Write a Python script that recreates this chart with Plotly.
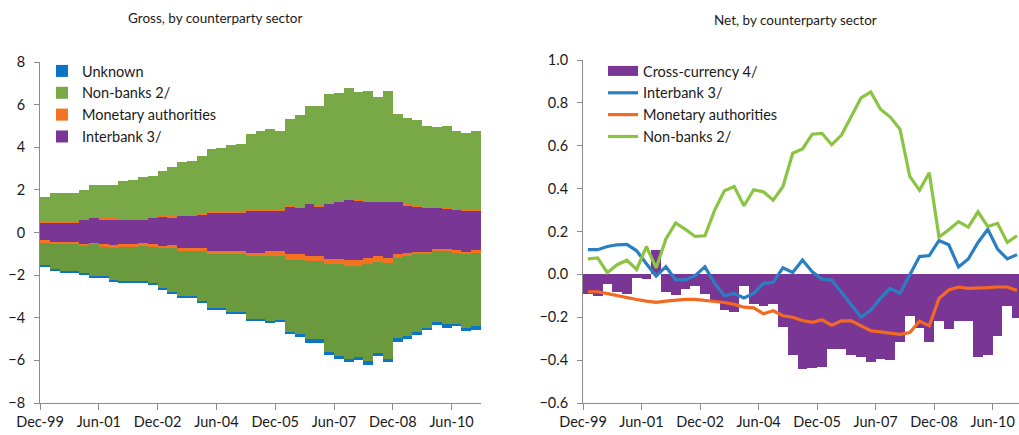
import plotly.graph_objects as go

W, H = 1019, 435

# ---------------- data ----------------
quarters = list(range(45))  # Dec-99 ... Dec-10, quarterly
tick_pos = [-0.5, 5.5, 11.5, 17.5, 23.5, 29.5, 35.5, 41.5]
tick_text = ["Dec-99", "Jun-01", "Dec-02", "Jun-04", "Dec-05", "Jun-07", "Dec-08", "Jun-10"]

# Gross (left panel) - positive side
interbank_pos = [0.45, 0.45, 0.45, 0.45, 0.57, 0.67, 0.60, 0.60, 0.57, 0.57, 0.57, 0.67, 0.73, 0.70, 0.76,
                 0.76, 0.82, 0.93, 0.93, 0.93, 0.93, 1.00, 1.00, 1.00, 1.00, 1.22, 1.16, 1.32, 1.19, 1.32,
                 1.41, 1.53, 1.50, 1.44, 1.44, 1.44, 1.44, 1.26, 1.19, 1.15, 1.15, 1.10, 1.04, 0.99, 0.99]
monetary_pos = [0.06, 0.06, 0.06, 0.06, 0.06, 0.07, 0.06, 0.06, 0.06, 0.06, 0.06, 0.06, 0.06, 0.06, 0.06,
                0.06, 0.06, 0.06, 0.06, 0.06, 0.06, 0.06, 0.06, 0.06, 0.06, 0.06, 0.06, 0.07, 0.06, 0.06,
                0.06, 0.06, 0.06, 0.06, 0.06, 0.06, 0.06, 0.06, 0.06, 0.06, 0.06, 0.06, 0.06, 0.06, 0.06]
nonbanks_pos = [1.15, 1.33, 1.33, 1.33, 1.37, 1.49, 1.56, 1.56, 1.80, 1.85, 1.96, 1.94, 2.09, 2.33, 2.50,
                2.54, 2.72, 2.93, 2.99, 3.10, 3.15, 3.58, 3.70, 3.81, 3.70, 4.05, 4.27, 4.54, 4.67, 5.12,
                5.07, 5.19, 5.01, 5.15, 4.84, 5.15, 4.07, 4.06, 4.01, 3.81, 3.75, 3.86, 3.66, 3.63, 3.71]

# Gross (left panel) - negative side
interbank_neg = [-0.36, -0.44, -0.44, -0.44, -0.52, -0.47, -0.53, -0.59, -0.56, -0.53, -0.50, -0.56, -0.62,
                 -0.59, -0.75, -0.75, -0.75, -0.88, -0.88, -0.88, -0.88, -0.94, -0.94, -0.88, -0.88, -1.03,
                 -1.03, -1.12, -1.12, -1.22, -1.22, -1.31, -1.31, -1.19, -1.12, -1.19, -1.03, -0.98, -0.91,
                 -0.91, -0.78, -0.78, -0.84, -0.91, -0.84]
monetary_neg = [-0.11, -0.09, -0.09, -0.09, -0.11, -0.09, -0.13, -0.13, -0.13, -0.13, -0.12, -0.13, -0.13,
                -0.13, -0.13, -0.13, -0.13, -0.15, -0.15, -0.15, -0.15, -0.15, -0.15, -0.21, -0.21, -0.25,
                -0.25, -0.22, -0.22, -0.25, -0.25, -0.28, -0.28, -0.28, -0.26, -0.22, -0.16, -0.14, -0.12,
                -0.12, -0.10, -0.10, -0.13, -0.12, -0.13]
nonbanks_neg = [-1.06, -1.20, -1.28, -1.28, -1.29, -1.49, -1.39, -1.51, -1.59, -1.62, -1.66, -1.70, -1.84,
                -2.06, -2.09, -2.09, -2.34, -2.50, -2.50, -2.69, -2.69, -2.97, -2.97, -3.07, -3.00, -3.38,
                -3.49, -3.66, -3.66, -4.16, -4.31, -4.35, -4.25, -4.55, -4.26, -4.53, -3.78, -3.72, -3.63,
                -3.44, -3.34, -3.43, -3.30, -3.44, -3.44]
unknown_neg = [-0.08, -0.08, -0.08, -0.08, -0.08, -0.09, -0.09, -0.08, -0.08, -0.08, -0.08, -0.08, -0.10,
               -0.10, -0.09, -0.09, -0.11, -0.10, -0.10, -0.09, -0.09, -0.10, -0.10, -0.09, -0.10, -0.09,
               -0.11, -0.17, -0.17, -0.10, -0.16, -0.15, -0.16, -0.20, -0.17, -0.15, -0.16, -0.16, -0.15,
               -0.12, -0.12, -0.16, -0.14, -0.16, -0.15]

# Net (right panel)
cross_currency = [-0.090, -0.100, -0.047, -0.083, -0.090, -0.016, -0.020, 0.115, -0.080, -0.095,
                  -0.067, -0.055, -0.090, -0.122, -0.164, -0.177, -0.055, -0.137, -0.148, -0.137,
                  -0.247, -0.377, -0.440, -0.436, -0.430, -0.346, -0.346, -0.374, -0.385, -0.410,
                  -0.396, -0.400, -0.315, -0.192, -0.250, -0.314, -0.216, -0.255, -0.216, -0.216,
                  -0.384, -0.377, -0.286, -0.148, -0.205]
interbank_net = [0.115, 0.115, 0.130, 0.138, 0.140, 0.110, 0.050, -0.008, 0.036, -0.026,
                 -0.026, -0.006, 0.036, -0.042, -0.100, -0.089, -0.110, -0.089, -0.042, -0.037,
                 0.031, 0.009, 0.067, 0.012, -0.022, -0.026, -0.084, -0.143, -0.200, -0.167,
                 -0.112, -0.065, -0.089, -0.003, 0.083, 0.088, 0.158, 0.138, 0.035, 0.072,
                 0.149, 0.210, 0.118, 0.072, 0.092]
monetary_net = [-0.081, -0.081, -0.090, -0.100, -0.109, -0.117, -0.125, -0.131, -0.125, -0.120,
                -0.117, -0.117, -0.121, -0.128, -0.131, -0.140, -0.153, -0.156, -0.184, -0.170,
                -0.193, -0.200, -0.215, -0.224, -0.212, -0.237, -0.217, -0.217, -0.240, -0.263,
                -0.268, -0.274, -0.280, -0.271, -0.218, -0.240, -0.112, -0.073, -0.059, -0.065,
                -0.065, -0.062, -0.059, -0.059, -0.075]
nonbanks_net = [0.072, 0.077, 0.008, 0.045, 0.066, 0.023, 0.130, 0.030, 0.165, 0.240,
                0.210, 0.177, 0.180, 0.300, 0.390, 0.410, 0.320, 0.395, 0.385, 0.346,
                0.410, 0.565, 0.585, 0.654, 0.658, 0.605, 0.650, 0.738, 0.823, 0.851,
                0.770, 0.734, 0.677, 0.457, 0.392, 0.474, 0.174, 0.208, 0.246, 0.220,
                0.292, 0.223, 0.238, 0.149, 0.180]

# ---------------- styles ----------------
PURPLE = "#7A3694"
ORANGE = "#F47321"
GREEN_POS = "#79A846"
GREEN_NEG = "#6B9A3E"
BLUE_BAR = "#0B74C4"
BLUE_LINE = "#2A7FC3"
ORANGE_LINE = "#F26A22"
GREEN_LINE = "#8BC443"
FONT = "Lato, 'Open Sans', sans-serif"
TXT = "#1a1a1a"
AX = "#8c8c8c"

fig = go.Figure()


def bar(y, name, color, show, group):
    fig.add_trace(go.Bar(x=quarters, y=y, name=name, marker=dict(color=color, line=dict(width=0)),
                         showlegend=show, legendgroup=group, legend="legend",
                         xaxis="x", yaxis="y", width=1.0))


bar(interbank_pos, "Interbank 3/", PURPLE, True, "ib")
bar(interbank_neg, "Interbank 3/", PURPLE, False, "ib")
bar(monetary_pos, "Monetary authorities", ORANGE, True, "ma")
bar(monetary_neg, "Monetary authorities", ORANGE, False, "ma")
bar(nonbanks_pos, "Non-banks 2/", GREEN_POS, True, "nb")
bar(nonbanks_neg, "Non-banks 2/", GREEN_NEG, False, "nb")
bar(unknown_neg, "Unknown", BLUE_BAR, True, "un")

# right panel
fig.add_trace(go.Bar(x=quarters, y=cross_currency, name="Cross-currency 4/",
                     marker=dict(color=PURPLE, line=dict(width=0)), width=1.0,
                     showlegend=False, legendgroup="cc", xaxis="x2", yaxis="y2"))
# legend-only entry drawn as a wide block like the original key
fig.add_trace(go.Scatter(x=[None], y=[None], mode="lines", name="Cross-currency 4/",
                         line=dict(color=PURPLE, width=10), legendgroup="cc", legend="legend2",
                         xaxis="x2", yaxis="y2"))
for y, name, col in [(interbank_net, "Interbank 3/", BLUE_LINE),
                     (monetary_net, "Monetary authorities", ORANGE_LINE),
                     (nonbanks_net, "Non-banks 2/", GREEN_LINE)]:
    fig.add_trace(go.Scatter(x=quarters, y=y, mode="lines", name=name,
                             line=dict(color=col, width=3.2), legend="legend2",
                             xaxis="x2", yaxis="y2"))


def px_x(p):
    return p / W


def px_y(p):
    return 1 - p / H


xa = dict(tickmode="array", tickvals=tick_pos, ticktext=tick_text, ticks="outside", ticklen=6,
          tickcolor=AX, showline=True, linecolor=AX, linewidth=1, showgrid=False, zeroline=False,
          tickfont=dict(family=FONT, size=14.5, color=TXT), fixedrange=True)
ya = dict(ticks="outside", ticklen=5, tickcolor=AX, showline=True, linecolor=AX, linewidth=1,
          showgrid=False, zeroline=False, tickfont=dict(family=FONT, size=14.5, color=TXT),
          ticklabelstandoff=6, fixedrange=True)

fig.update_layout(
    width=W, height=H, margin=dict(l=0, r=0, t=0, b=0),
    paper_bgcolor="white", plot_bgcolor="white",
    barmode="relative", bargap=0, template="none",
    font=dict(family=FONT, color=TXT),
    xaxis=dict(xa, domain=[px_x(40), px_x(481)], range=[-0.5, 44.5], anchor="y"),
    yaxis=dict(ya, domain=[px_y(403), px_y(62)], range=[-8, 8], dtick=2, anchor="x"),
    xaxis2=dict(xa, domain=[px_x(583), 1.0], range=[-0.5, 44.2], anchor="y2"),
    yaxis2=dict(ya, domain=[px_y(403), px_y(60)], range=[-0.6, 1.0], dtick=0.2, tickformat=".1f",
                anchor="x2"),
    legend=dict(x=px_x(42), y=px_y(55), xanchor="left", yanchor="top", traceorder="reversed",
                bgcolor="rgba(0,0,0,0)", font=dict(family=FONT, size=14.5, color=TXT),
                tracegroupgap=0, itemwidth=30),
    legend2=dict(x=px_x(603), y=px_y(55), xanchor="left", yanchor="top", traceorder="normal",
                 bgcolor="rgba(0,0,0,0)", font=dict(family=FONT, size=14.5, color=TXT),
                 tracegroupgap=0, itemwidth=30),
    annotations=[
        dict(text="Gross, by counterparty sector", x=px_x(215), y=px_y(18), xref="paper", yref="paper",
             xanchor="center", yanchor="middle", showarrow=False,
             font=dict(family=FONT, size=13.5, color=TXT)),
        dict(text="Net, by counterparty sector", x=px_x(795), y=px_y(20), xref="paper", yref="paper",
             xanchor="center", yanchor="middle", showarrow=False,
             font=dict(family=FONT, size=13.5, color=TXT)),
    ],
)

fig.write_html("out.html", config={"displayModeBar": False, "staticPlot": True},
               post_script="document.body.style.margin='0';document.body.style.overflow='hidden';")
